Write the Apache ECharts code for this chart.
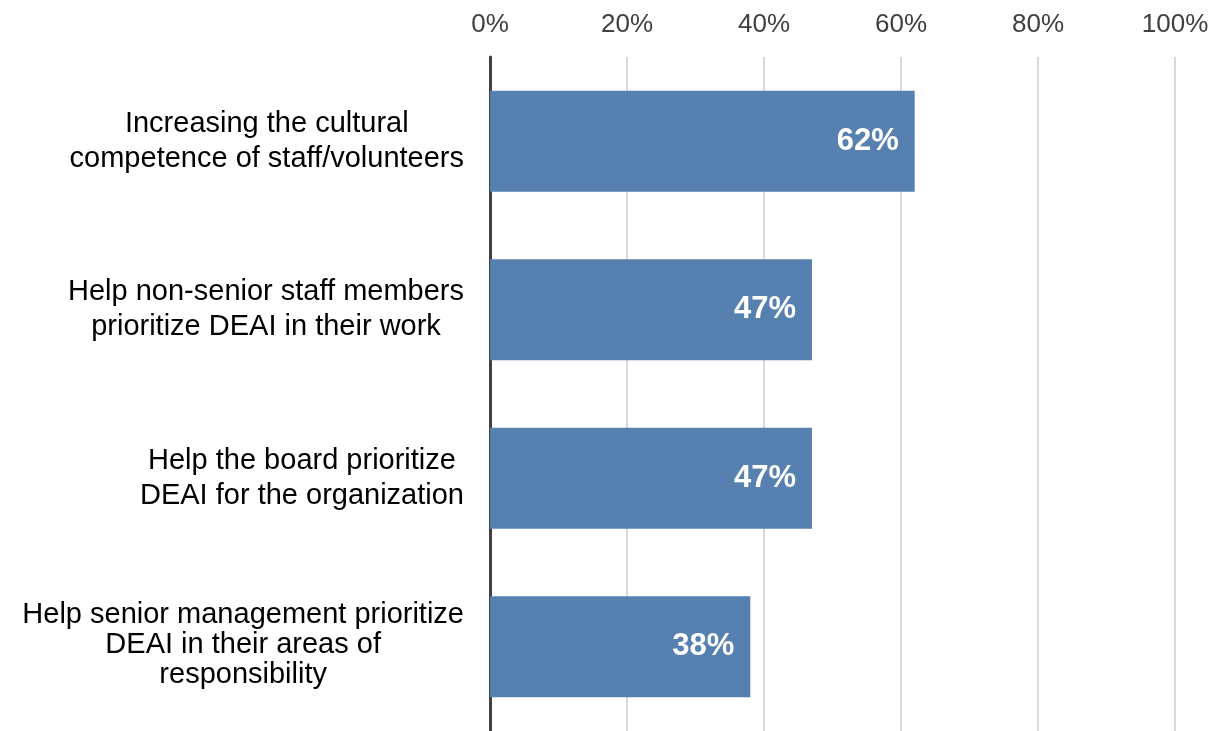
<!DOCTYPE html>
<html>
<head>
<meta charset="utf-8">
<script src="https://cdn.jsdelivr.net/npm/echarts@6/dist/echarts.min.js"></script>
<style>
  html, body { margin: 0; padding: 0; background: #ffffff; }
  #chart { width: 1228px; height: 731px; }
</style>
</head>
<body>
<div id="chart"></div>
<script>
// Survey items (top to bottom) and the share of respondents choosing each
const categories = [
  'Increasing the cultural\ncompetence of staff/volunteers',
  'Help non-senior staff members\nprioritize DEAI in their work',
  'Help the board prioritize\nDEAI for the organization',
  'Help senior management prioritize\nDEAI in their areas of\nresponsibility'
];
const values = [62, 47, 47, 38];
const tickValues = [0, 20, 40, 60, 80, 100];

const FONT = '"Liberation Sans", Arial, Helvetica, sans-serif';

// three-line labels are set a little tighter and sit slightly higher
const categoryData = categories.map(function (c) {
  const lines = c.split('\n').length;
  return lines > 2
    ? { value: c, textStyle: { padding: [0, 0, 4, 0] } }
    : { value: c };
});

const chart = echarts.init(document.getElementById('chart'), null, { renderer: 'canvas' });

chart.setOption({
  backgroundColor: '#ffffff',
  animation: false,
  grid: { left: 490, right: 53, top: 57, height: 677, containLabel: false },
  xAxis: {
    type: 'value',
    position: 'top',
    min: tickValues[0],
    max: tickValues[tickValues.length - 1],
    interval: tickValues[1] - tickValues[0],
    axisLine: { show: false },
    axisTick: { show: false },
    axisLabel: {
      formatter: '{value}%',
      fontFamily: FONT,
      fontSize: 26,
      color: '#404040',
      margin: 19
    },
    splitLine: { show: true, lineStyle: { color: '#d9d9d9', width: 2 } }
  },
  yAxis: {
    type: 'category',
    inverse: true,
    data: categoryData,
    axisLine: { show: true, lineStyle: { color: '#404040', width: 3 } },
    axisTick: { show: false },
    splitLine: { show: false },
    axisLabel: {
      margin: 26,
      // each line centred inside the right-aligned label block
      formatter: function (v) {
        const lines = v.split('\n');
        const key = lines.length > 2 ? 't' : 'c';
        return lines.map(function (l) { return '{' + key + '|' + l + '}'; }).join('\n');
      },
      rich: {
        c: {
          align: 'center',
          fontFamily: FONT,
          fontSize: 29,
          lineHeight: 35,
          color: '#000000'
        },
        t: {
          align: 'center',
          fontFamily: FONT,
          fontSize: 29,
          lineHeight: 30,
          color: '#000000'
        }
      }
    }
  },
  series: [{
    type: 'bar',
    data: values,
    barWidth: '60%',
    itemStyle: { color: '#5580b0' },
    label: {
      show: true,
      position: 'insideRight',
      distance: 16,
      formatter: '{c}%',
      fontFamily: FONT,
      fontWeight: 'bold',
      fontSize: 31,
      color: '#ffffff'
    }
  }]
});
</script>
</body>
</html>
